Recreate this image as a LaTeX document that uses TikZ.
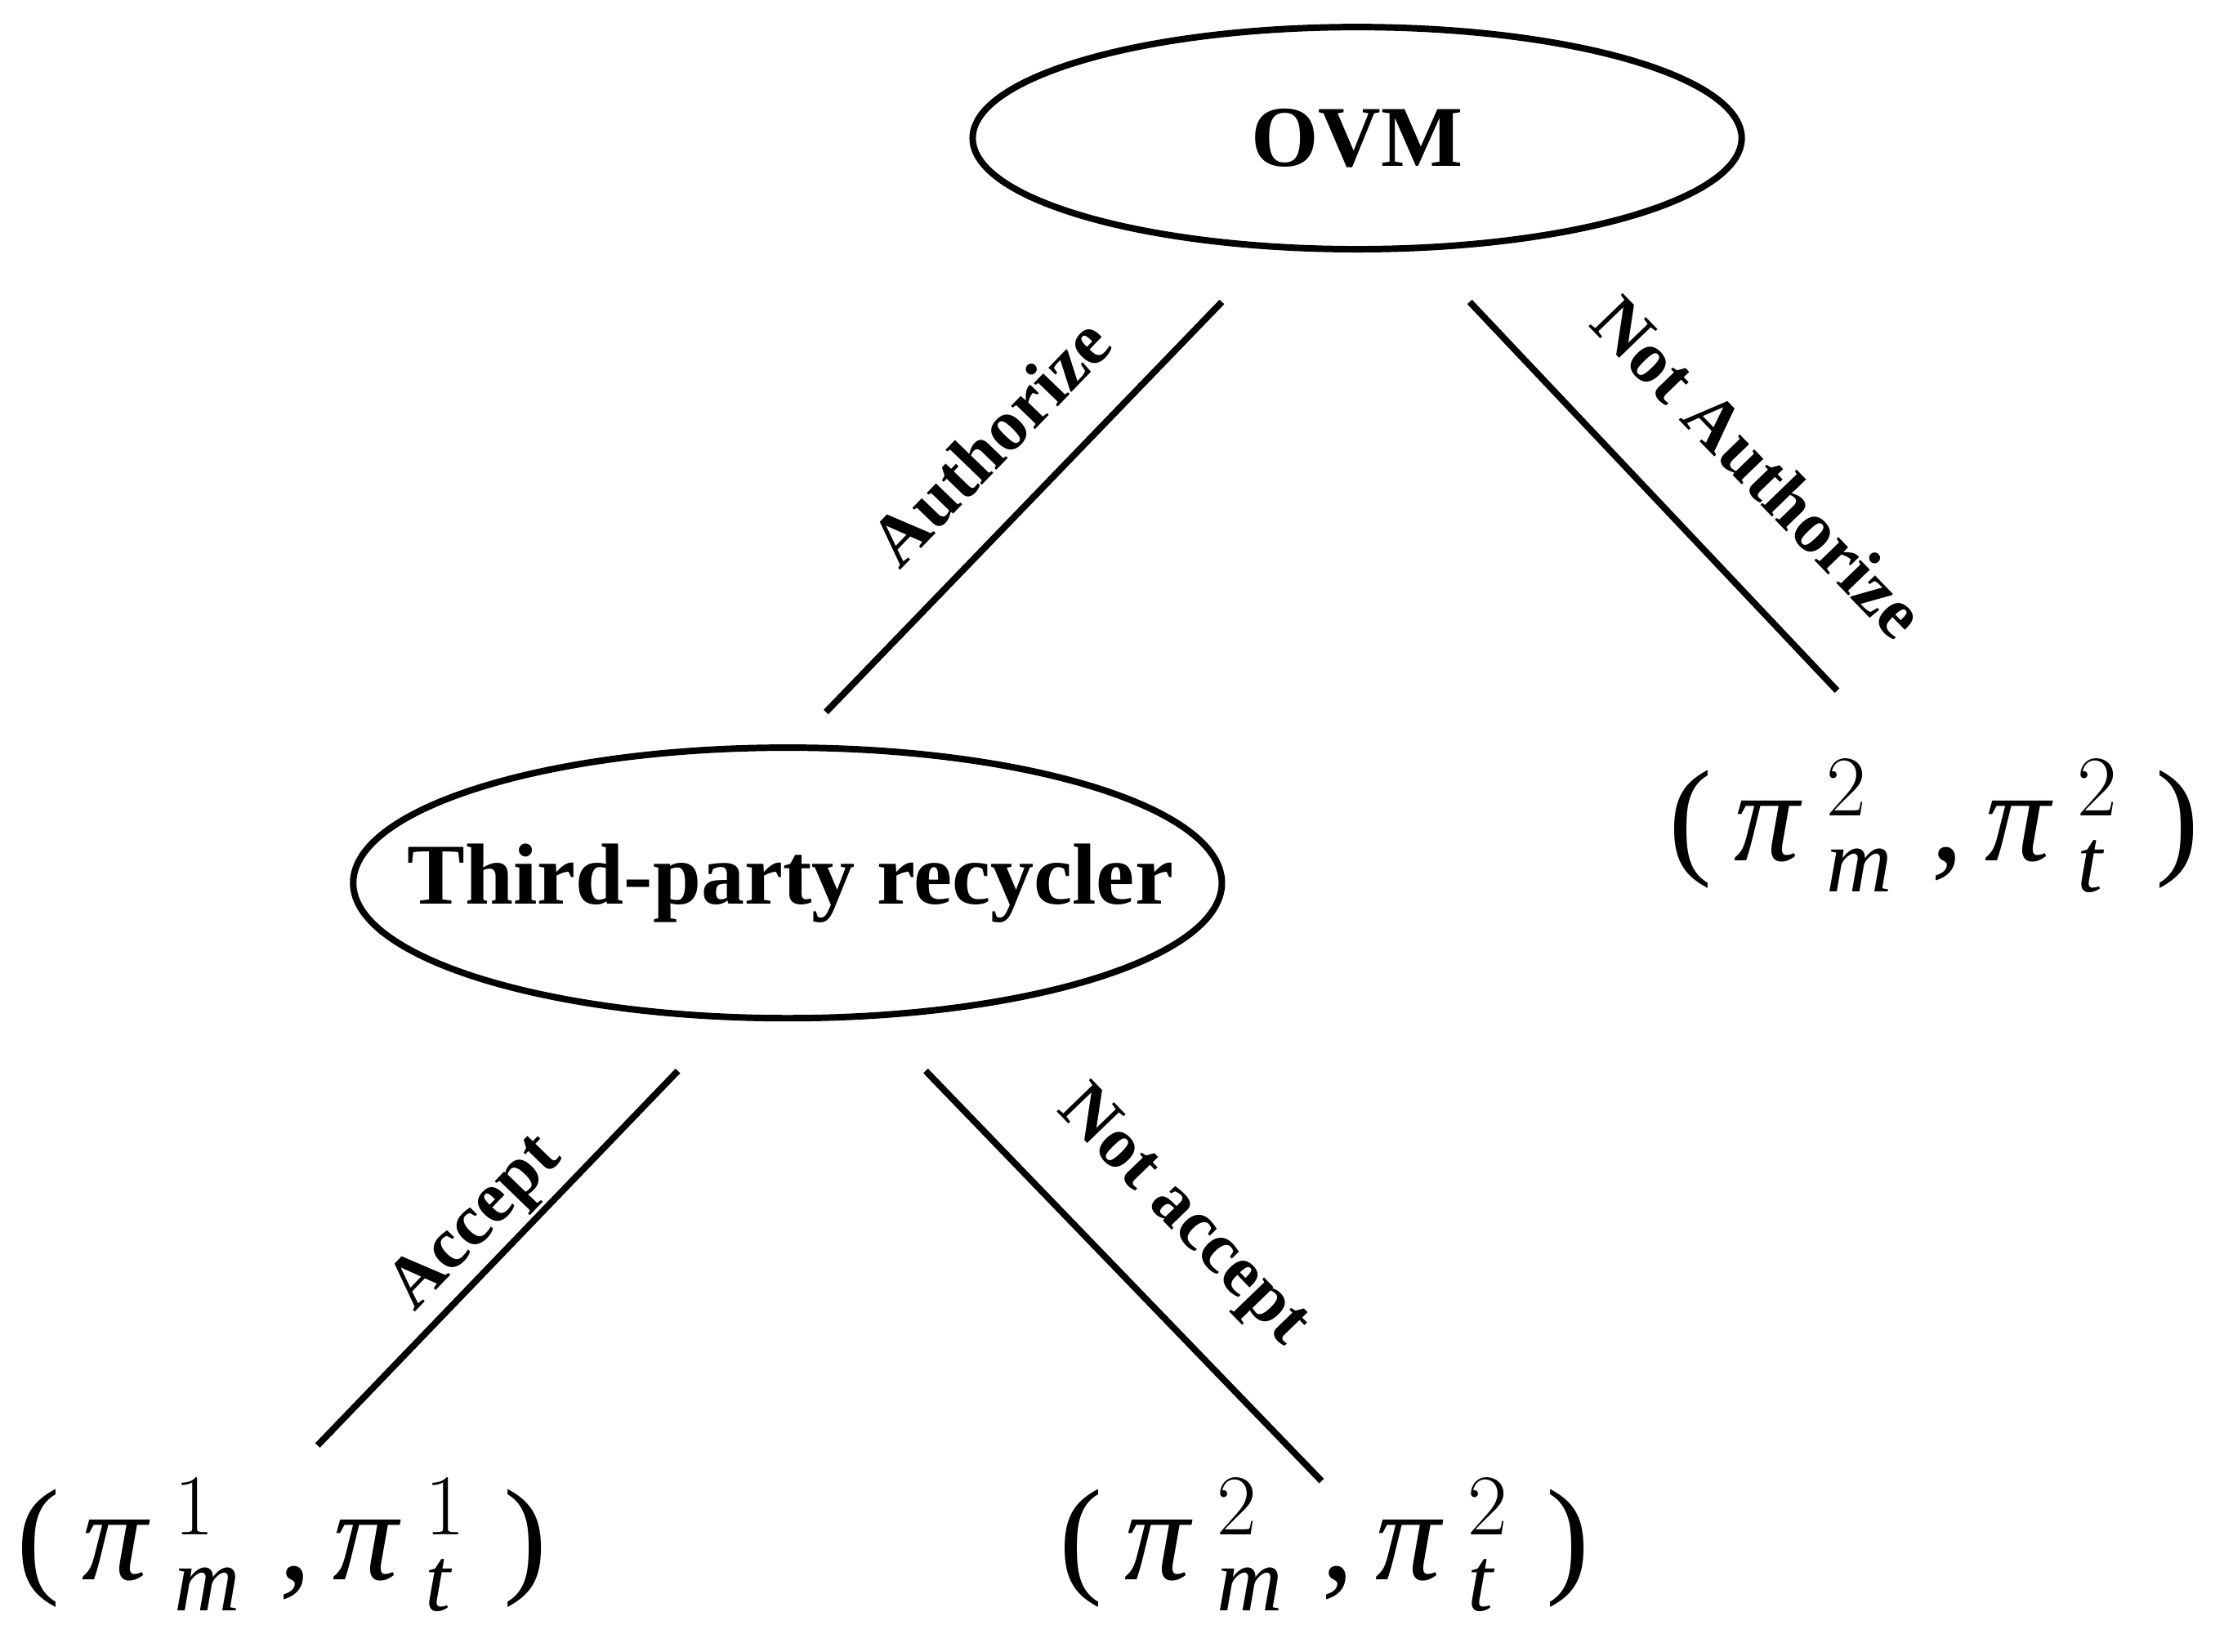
\documentclass[tikz,border=0pt]{standalone}
\usepackage{fontspec}
\setmainfont{Liberation Serif}
\begin{document}
\begin{tikzpicture}[x=0.01cm,y=-0.01cm,
  txt/.style={inner sep=0pt,font=\bfseries\fontsize{17.3}{20}\selectfont},
  br/.style={line width=1.3pt},
  lab/.style={font=\bfseries\fontsize{14.5}{17}\selectfont,inner sep=0pt},
  pay/.style={font=\fontsize{26}{30}\selectfont,inner sep=0pt}]
\useasboundingbox (0,0) rectangle (1568,1160);
\draw[br] (953,97) ellipse [x radius=270, y radius=78];
\draw[br] (553,620) ellipse [x radius=305, y radius=95];
\node[txt] (ovm) at (953,97) {OVM};
\node[txt] (tpr) at (555,620) {Third-party recycler};
\coordinate (a1) at (858,212); \coordinate (a2) at (580,500);
\coordinate (n1) at (1032,212); \coordinate (n2) at (1290,485);
\coordinate (c1) at (476,752); \coordinate (c2) at (223,1015);
\coordinate (d1) at (650,752); \coordinate (d2) at (928,1040);
\draw[br] (a1) -- (a2);
\draw[br] (n1) -- (n2);
\draw[br] (c1) -- (c2);
\draw[br] (d1) -- (d2);
\node[lab,rotate=46] (la) at (695,310) {Authorize};
\node[lab,rotate=-46] (lna) at (1235,328) {Not Authorize};
\node[lab,rotate=46] (lc) at (335,860) {Accept};
\node[lab,rotate=-46] (lnc) at (830,855) {Not accept};
\node[pay] (p1) at (1358,580) {(\,\textit{π}$^{\;2}_{\;\mathit{m}}$\;,\,\textit{π}$^{\;2}_{\;\mathit{t}}$\;)};
\node[pay] (p2) at (198,1085) {(\,\textit{π}$^{\;1}_{\;\mathit{m}}$\;,\,\textit{π}$^{\;1}_{\;\mathit{t}}$\;)};
\node[pay] (p3) at (930,1085) {(\,\textit{π}$^{\;2}_{\;\mathit{m}}$\;,\,\textit{π}$^{\;2}_{\;\mathit{t}}$\;)};
\end{tikzpicture}
\end{document}
